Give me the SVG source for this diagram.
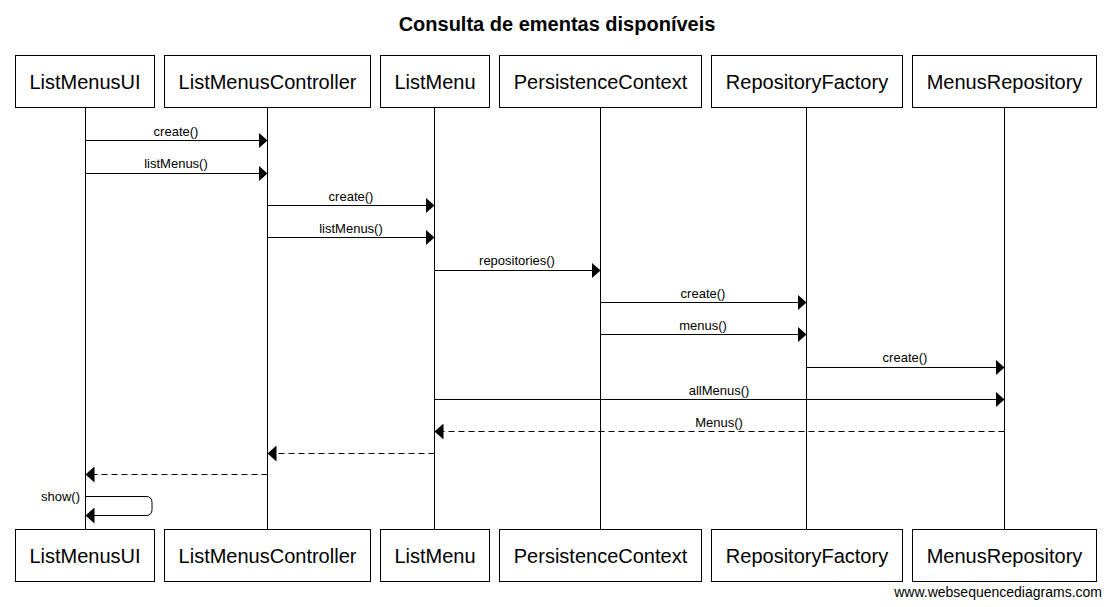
<svg xmlns="http://www.w3.org/2000/svg" width="1110" height="607" viewBox="0 0 1110 607">
<style>
  .box{fill:#fff;stroke:#000;stroke-width:1}
  .pt{font-family:"Liberation Sans",Arial,sans-serif;font-size:20px;text-anchor:middle;fill:#000}
  .life{stroke:#000;stroke-width:1}
  .msg{stroke:#000;stroke-width:1;fill:none;marker-end:url(#ah)}
  .ret{stroke:#000;stroke-width:1;fill:none;stroke-dasharray:6,4;marker-end:url(#ah)}
  .lbl{font-family:"Liberation Sans",Arial,sans-serif;font-size:13px;text-anchor:middle;fill:#000}
  .title{font-family:"Liberation Sans",Arial,sans-serif;font-size:20px;font-weight:bold;text-anchor:middle;fill:#000}
  .foot{font-family:"Liberation Sans",Arial,sans-serif;font-size:14px;text-anchor:end;fill:#000}
</style>
<defs>
  <marker id="ah" markerWidth="10" markerHeight="16" refX="9" refY="8" orient="auto" markerUnits="userSpaceOnUse">
    <path d="M0,0 L9,8 L0,16 z" fill="#000"/>
  </marker>
</defs>
<rect width="1110" height="607" fill="#fff"/>
<text class="title" x="557" y="31">Consulta de ementas disponíveis</text>

<g id="lifelines">
  <line class="life" x1="85.5" y1="108" x2="85.5" y2="529"/>
  <line class="life" x1="267.5" y1="108" x2="267.5" y2="529"/>
  <line class="life" x1="434.5" y1="108" x2="434.5" y2="529"/>
  <line class="life" x1="600.5" y1="108" x2="600.5" y2="529"/>
  <line class="life" x1="806.5" y1="108" x2="806.5" y2="529"/>
  <line class="life" x1="1004.5" y1="108" x2="1004.5" y2="529"/>
</g>

<g id="ListMenusUI">
  <rect class="box" x="15.5" y="55.5" width="139" height="52"/>
  <text class="pt" x="85" y="89">ListMenusUI</text>
  <rect class="box" x="15.5" y="529.5" width="139" height="52"/>
  <text class="pt" x="85" y="563">ListMenusUI</text>
</g>
<g id="ListMenusController">
  <rect class="box" x="164.5" y="55.5" width="206" height="52"/>
  <text class="pt" x="267.5" y="89">ListMenusController</text>
  <rect class="box" x="164.5" y="529.5" width="206" height="52"/>
  <text class="pt" x="267.5" y="563">ListMenusController</text>
</g>
<g id="ListMenu">
  <rect class="box" x="380.5" y="55.5" width="109" height="52"/>
  <text class="pt" x="435" y="89">ListMenu</text>
  <rect class="box" x="380.5" y="529.5" width="109" height="52"/>
  <text class="pt" x="435" y="563">ListMenu</text>
</g>
<g id="PersistenceContext">
  <rect class="box" x="499.5" y="55.5" width="202" height="52"/>
  <text class="pt" x="600.5" y="89">PersistenceContext</text>
  <rect class="box" x="499.5" y="529.5" width="202" height="52"/>
  <text class="pt" x="600.5" y="563">PersistenceContext</text>
</g>
<g id="RepositoryFactory">
  <rect class="box" x="711.5" y="55.5" width="191" height="52"/>
  <text class="pt" x="807" y="89">RepositoryFactory</text>
  <rect class="box" x="711.5" y="529.5" width="191" height="52"/>
  <text class="pt" x="807" y="563">RepositoryFactory</text>
</g>
<g id="MenusRepository">
  <rect class="box" x="912.5" y="55.5" width="184" height="52"/>
  <text class="pt" x="1004.5" y="89">MenusRepository</text>
  <rect class="box" x="912.5" y="529.5" width="184" height="52"/>
  <text class="pt" x="1004.5" y="563">MenusRepository</text>
</g>

<g id="connectors">
  <path class="msg" d="M85.5,140.5 H267.5"/>
  <text class="lbl" x="176" y="136">create()</text>
  <path class="msg" d="M85.5,173.5 H267.5"/>
  <text class="lbl" x="176" y="168">listMenus()</text>
  <path class="msg" d="M267.5,205.5 H434.5"/>
  <text class="lbl" x="351" y="201">create()</text>
  <path class="msg" d="M267.5,237.5 H434.5"/>
  <text class="lbl" x="351" y="233">listMenus()</text>
  <path class="msg" d="M434.5,270.5 H600.5"/>
  <text class="lbl" x="517" y="265">repositories()</text>
  <path class="msg" d="M600.5,302.5 H806.5"/>
  <text class="lbl" x="703" y="298">create()</text>
  <path class="msg" d="M600.5,334.5 H806.5"/>
  <text class="lbl" x="703" y="330">menus()</text>
  <path class="msg" d="M806.5,367.5 H1004.5"/>
  <text class="lbl" x="905" y="362">create()</text>
  <path class="msg" d="M434.5,399.5 H1004.5"/>
  <text class="lbl" x="719" y="395">allMenus()</text>
  <path class="ret" d="M1004.5,431.5 H434.5"/>
  <text class="lbl" x="719" y="427">Menus()</text>
  <path class="ret" d="M434.5,453.5 H267.5"/>
  <path class="ret" d="M267.5,474.5 H85.5"/>
  <path class="msg" d="M85.5,496.5 H146 Q152,496.5 152,502.5 V509.5 Q152,515.5 146,515.5 H85.5"/>
  <text class="lbl" x="80" y="501" style="text-anchor:end">show()</text>
</g>

<text class="foot" x="1102" y="597">www.websequencediagrams.com</text>
</svg>
